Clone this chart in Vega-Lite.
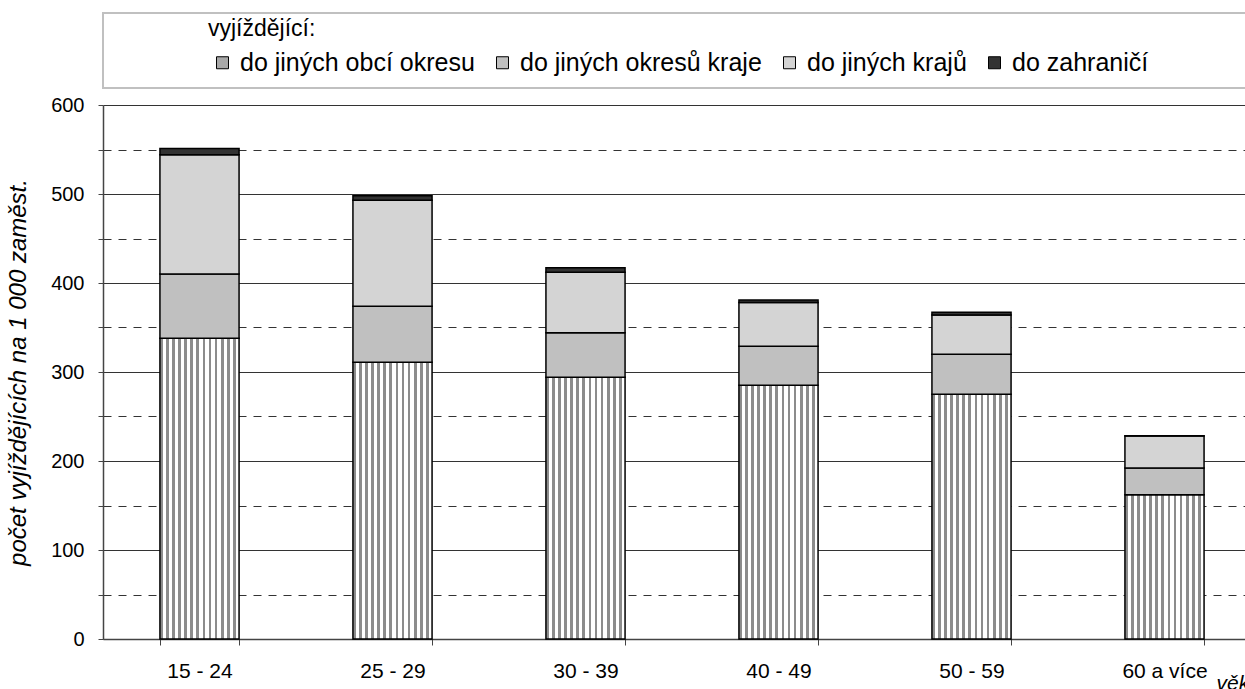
{
  "$schema": "https://vega.github.io/schema/vega-lite/v6.json",
  "background": "white",
  "padding": {"left": 6, "top": 12, "right": 0, "bottom": 0},
  "config": {
    "font": "Liberation Sans",
    "view": {"stroke": null},
    "concat": {"spacing": 17}
  },
  "bounds": "flush",
  "datasets": {
    "d": [
      {"vek": "15 - 24", "typ": "do jiných obcí okresu", "poradi": 1, "hodnota": 338},
      {"vek": "15 - 24", "typ": "do jiných okresů kraje", "poradi": 2, "hodnota": 72},
      {"vek": "15 - 24", "typ": "do jiných krajů", "poradi": 3, "hodnota": 134},
      {"vek": "15 - 24", "typ": "do zahraničí", "poradi": 4, "hodnota": 7},
      {"vek": "25 - 29", "typ": "do jiných obcí okresu", "poradi": 1, "hodnota": 311},
      {"vek": "25 - 29", "typ": "do jiných okresů kraje", "poradi": 2, "hodnota": 63},
      {"vek": "25 - 29", "typ": "do jiných krajů", "poradi": 3, "hodnota": 119},
      {"vek": "25 - 29", "typ": "do zahraničí", "poradi": 4, "hodnota": 5},
      {"vek": "30 - 39", "typ": "do jiných obcí okresu", "poradi": 1, "hodnota": 294},
      {"vek": "30 - 39", "typ": "do jiných okresů kraje", "poradi": 2, "hodnota": 50},
      {"vek": "30 - 39", "typ": "do jiných krajů", "poradi": 3, "hodnota": 68},
      {"vek": "30 - 39", "typ": "do zahraničí", "poradi": 4, "hodnota": 5},
      {"vek": "40 - 49", "typ": "do jiných obcí okresu", "poradi": 1, "hodnota": 285},
      {"vek": "40 - 49", "typ": "do jiných okresů kraje", "poradi": 2, "hodnota": 44},
      {"vek": "40 - 49", "typ": "do jiných krajů", "poradi": 3, "hodnota": 49},
      {"vek": "40 - 49", "typ": "do zahraničí", "poradi": 4, "hodnota": 3},
      {"vek": "50 - 59", "typ": "do jiných obcí okresu", "poradi": 1, "hodnota": 275},
      {"vek": "50 - 59", "typ": "do jiných okresů kraje", "poradi": 2, "hodnota": 45},
      {"vek": "50 - 59", "typ": "do jiných krajů", "poradi": 3, "hodnota": 44},
      {"vek": "50 - 59", "typ": "do zahraničí", "poradi": 4, "hodnota": 3},
      {"vek": "60 a více", "typ": "do jiných obcí okresu", "poradi": 1, "hodnota": 162},
      {"vek": "60 a více", "typ": "do jiných okresů kraje", "poradi": 2, "hodnota": 30},
      {"vek": "60 a více", "typ": "do jiných krajů", "poradi": 3, "hodnota": 36},
      {"vek": "60 a více", "typ": "do zahraničí", "poradi": 4, "hodnota": 0.5}
    ],
    "box": [{"t": ""}]
  },
  "vconcat": [
    {
      "width": 1150,
      "height": 75,
      "view": {"stroke": "#c0c0c0", "strokeWidth": 2},
      "data": {"name": "box"},
      "mark": {"type": "text"},
      "encoding": {"text": {"field": "t"}}
    },
    {
      "width": 1158,
      "height": 534,
      "data": {"name": "d"},
      "transform": [
        {"stack": "hodnota", "groupby": ["vek"], "sort": [{"field": "poradi", "order": "ascending"}], "as": ["y0", "y1"]}
      ],
      "encoding": {
        "x": {
          "field": "vek",
          "type": "nominal",
          "sort": null,
          "scale": {"paddingInner": 0.59, "paddingOuter": 0.295},
          "axis": {
            "title": "věk",
            "titleFontStyle": "italic",
            "titleFontWeight": "normal",
            "titleFontSize": 21,
            "titleColor": "black",
            "titleAlign": "left",
            "titleBaseline": "middle",
            "titleX": 1113,
            "titleY": 44,
            "labelAngle": 0,
            "labelFontSize": 21,
            "labelColor": "black",
            "labelPadding": 15,
            "tickBand": "extent",
            "tickColor": "#444",
            "tickSize": 6,
            "domainColor": "#444",
            "domainWidth": 1.5
          }
        },
        "y": {
          "field": "y1",
          "type": "quantitative",
          "scale": {"domain": [0, 600], "nice": false},
          "axis": {
            "title": "počet vyjíždějících na 1 000 zaměst.",
            "titleFontStyle": "italic",
            "titleFontWeight": "normal",
            "titleFontSize": 24,
            "titleColor": "black",
            "titlePadding": 20,
            "values": [0, 50, 100, 150, 200, 250, 300, 350, 400, 450, 500, 550, 600],
            "labelExpr": "datum.value % 100 === 0 ? datum.label : ''",
            "labelFontSize": 20,
            "labelColor": "black",
            "labelPadding": 14,
            "tickColor": "#444",
            "tickSize": 5,
            "domainColor": "#444",
            "domainWidth": 1.5,
            "grid": true,
            "gridColor": "#333",
            "gridOpacity": 1,
            "gridWidth": 1,
            "gridDash": {"condition": {"test": "datum.value % 100 !== 0", "value": [8, 7]}, "value": []}
          }
        },
        "y2": {"field": "y0"}
      },
      "layer": [
        {
          "transform": [{"filter": "datum.poradi === 1"}],
          "mark": {
            "type": "bar",
            "stroke": "black",
            "strokeWidth": 1.5,
            "fill": {"gradient": "linear", "x1": 0, "y1": 0, "x2": 1, "y2": 0, "stops": [
              {"offset": 0, "color": "#8c8c8c"}, {"offset": 0.0346, "color": "#8c8c8c"}, {"offset": 0.0346, "color": "#ffffff"}, {"offset": 0.0769, "color": "#ffffff"},
              {"offset": 0.0769, "color": "#8c8c8c"}, {"offset": 0.1115, "color": "#8c8c8c"}, {"offset": 0.1115, "color": "#ffffff"}, {"offset": 0.1538, "color": "#ffffff"},
              {"offset": 0.1538, "color": "#8c8c8c"}, {"offset": 0.1885, "color": "#8c8c8c"}, {"offset": 0.1885, "color": "#ffffff"}, {"offset": 0.2308, "color": "#ffffff"},
              {"offset": 0.2308, "color": "#8c8c8c"}, {"offset": 0.2654, "color": "#8c8c8c"}, {"offset": 0.2654, "color": "#ffffff"}, {"offset": 0.3077, "color": "#ffffff"},
              {"offset": 0.3077, "color": "#8c8c8c"}, {"offset": 0.3423, "color": "#8c8c8c"}, {"offset": 0.3423, "color": "#ffffff"}, {"offset": 0.3846, "color": "#ffffff"},
              {"offset": 0.3846, "color": "#8c8c8c"}, {"offset": 0.4192, "color": "#8c8c8c"}, {"offset": 0.4192, "color": "#ffffff"}, {"offset": 0.4615, "color": "#ffffff"},
              {"offset": 0.4615, "color": "#8c8c8c"}, {"offset": 0.4962, "color": "#8c8c8c"}, {"offset": 0.4962, "color": "#ffffff"}, {"offset": 0.5385, "color": "#ffffff"},
              {"offset": 0.5385, "color": "#8c8c8c"}, {"offset": 0.5731, "color": "#8c8c8c"}, {"offset": 0.5731, "color": "#ffffff"}, {"offset": 0.6154, "color": "#ffffff"},
              {"offset": 0.6154, "color": "#8c8c8c"}, {"offset": 0.65, "color": "#8c8c8c"}, {"offset": 0.65, "color": "#ffffff"}, {"offset": 0.6923, "color": "#ffffff"},
              {"offset": 0.6923, "color": "#8c8c8c"}, {"offset": 0.7269, "color": "#8c8c8c"}, {"offset": 0.7269, "color": "#ffffff"}, {"offset": 0.7692, "color": "#ffffff"},
              {"offset": 0.7692, "color": "#8c8c8c"}, {"offset": 0.8038, "color": "#8c8c8c"}, {"offset": 0.8038, "color": "#ffffff"}, {"offset": 0.8462, "color": "#ffffff"},
              {"offset": 0.8462, "color": "#8c8c8c"}, {"offset": 0.8808, "color": "#8c8c8c"}, {"offset": 0.8808, "color": "#ffffff"}, {"offset": 0.9231, "color": "#ffffff"},
              {"offset": 0.9231, "color": "#8c8c8c"}, {"offset": 0.9577, "color": "#8c8c8c"}, {"offset": 0.9577, "color": "#ffffff"}, {"offset": 1, "color": "#ffffff"}
            ]}
          }
        },
        {
          "transform": [{"filter": "datum.poradi !== 1"}],
          "mark": {"type": "bar", "stroke": "black", "strokeWidth": 1.5},
          "encoding": {
            "color": {
              "field": "typ",
              "type": "nominal",
              "scale": {
                "domain": ["do jiných obcí okresu", "do jiných okresů kraje", "do jiných krajů", "do zahraničí"],
                "range": ["#a8a8a8", "#c0c0c0", "#d4d4d4", "#333333"]
              },
              "legend": {
                "orient": "none",
                "legendX": 105,
                "legendY": 5,
                "direction": "horizontal",
                "title": "vyjíždějící:",
                "titleFontSize": 23,
                "titleFontWeight": "normal",
                "titleColor": "black",
                "titlePadding": 9,
                "labelFontSize": 25,
                "labelColor": "black",
                "labelOffset": 5,
                "labelLimit": 400,
                "columnPadding": 13,
                "symbolType": "square",
                "symbolSize": 144,
                "symbolStrokeColor": "black",
                "symbolStrokeWidth": 1,
                "symbolOffset": 2,
                "encode": {
                  "symbols": {
                    "update": {
                      "stroke": {"value": "black"},
                      "strokeWidth": {"value": 1},
                      "fill": [
                        {"test": "datum.value === 'do jiných obcí okresu'", "value": {"gradient": "linear", "x1": 0, "y1": 0, "x2": 1, "y2": 0, "stops": [
                          {"offset": 0, "color": "#ffffff"}, {"offset": 0.17, "color": "#ffffff"}, {"offset": 0.17, "color": "#555555"}, {"offset": 0.33, "color": "#555555"},
                          {"offset": 0.33, "color": "#ffffff"}, {"offset": 0.42, "color": "#ffffff"}, {"offset": 0.42, "color": "#555555"}, {"offset": 0.58, "color": "#555555"},
                          {"offset": 0.58, "color": "#ffffff"}, {"offset": 0.67, "color": "#ffffff"}, {"offset": 0.67, "color": "#555555"}, {"offset": 0.83, "color": "#555555"},
                          {"offset": 0.83, "color": "#ffffff"}, {"offset": 1, "color": "#ffffff"}
                        ]}},
                        {"scale": "color", "field": "value"}
                      ]
                    }
                  }
                }
              }
            }
          }
        }
      ]
    }
  ]
}
